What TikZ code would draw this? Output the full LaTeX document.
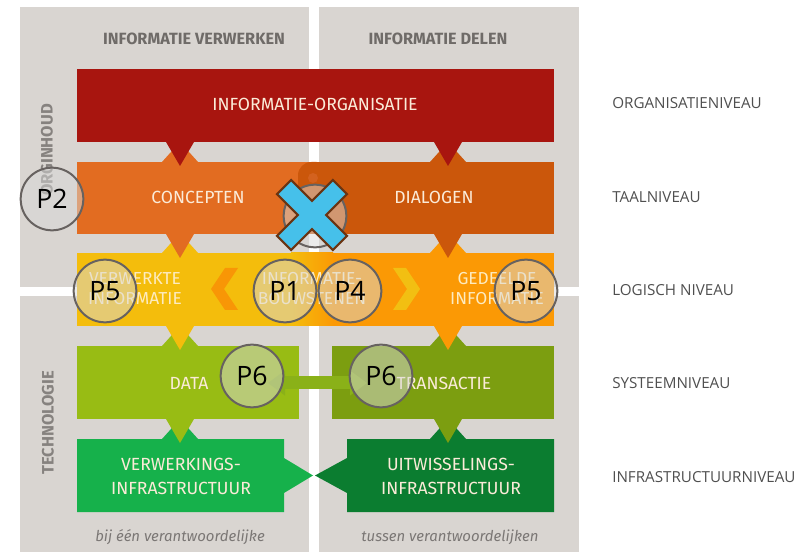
\documentclass[tikz,border=0pt]{standalone}
\usepackage{fontspec}
\setmainfont{Fira Sans}
\newfontfamily\osans{Open Sans}
\usetikzlibrary{arrows.meta}
\definecolor{bgc}{HTML}{D9D5D1}
\definecolor{hdrc}{HTML}{6F6B68}
\definecolor{sidec}{HTML}{86827F}
\definecolor{redc}{HTML}{A8150F}
\definecolor{oleft}{HTML}{E26C21}
\definecolor{oright}{HTML}{CB570B}
\definecolor{lockc}{HTML}{D3621F}
\definecolor{yelc}{HTML}{F4BD0C}
\definecolor{orgc}{HTML}{FB9905}
\definecolor{chevo}{HTML}{F89606}
\definecolor{chevy}{HTML}{F2BF12}
\definecolor{gone}{HTML}{98BC14}
\definecolor{gtwo}{HTML}{7C9E10}
\definecolor{garrow}{HTML}{8AB118}
\definecolor{gbright}{HTML}{16B14B}
\definecolor{gdark}{HTML}{0B7D30}
\definecolor{barfg}{HTML}{FBEBD8}
\definecolor{yfg}{HTML}{FDEBC0}
\definecolor{lvlc}{HTML}{4F4F4F}
\definecolor{capc}{HTML}{7B7775}
\definecolor{circd}{HTML}{676260}
\definecolor{circf}{HTML}{D8D8D8}
\definecolor{xfill}{HTML}{46C0EA}
\definecolor{xline}{HTML}{6A3412}
\begin{document}
\begin{tikzpicture}[x=0.75pt,y=-0.75pt,
  bartext/.style={text=barfg,font=\fontsize{13.2}{16}\selectfont,align=center,inner sep=0pt},
  ytext/.style={text=yfg,font=\fontsize{13}{15}\selectfont,align=center,inner sep=0pt},
  hdr/.style={text=hdrc,font=\bfseries\fontsize{12.2}{13}\selectfont,inner sep=0pt},
  side/.style={text=sidec,font=\bfseries\fontsize{12.4}{13}\selectfont,inner sep=0pt,rotate=90},
  lvl/.style={text=lvlc,font=\osans\fontsize{11.4}{12}\selectfont,inner sep=0pt,anchor=west},
  capt/.style={text=capc,font=\itshape\fontsize{11.2}{13}\selectfont,inner sep=0pt},
  pc/.style={circle,draw=circd,line width=1.5pt,fill=circf,fill opacity=0.5,text opacity=1,
    minimum size=47pt,inner sep=0pt,font=\osans\fontsize{20}{20}\selectfont},
]
\useasboundingbox (0,0) rectangle (800,552);
% quadrants
\fill[bgc] (20,7) rectangle (309,287);
\fill[bgc] (319,7) rectangle (579,287);
\fill[bgc] (20,296) rectangle (309,552);
\fill[bgc] (319,296) rectangle (579,552);

% row 5 : infrastructure
\fill[gbright] (77,439) -- (284,439) -- (284,458) -- (313,475.5) -- (284,493) -- (284,512) -- (77,512) -- cycle;
\fill[gdark] (554,439) -- (347,439) -- (347,458) -- (315,475.5) -- (347,493) -- (347,512) -- (554,512) -- cycle;
\fill[gbright] (162,439) -- (180,419) -- (198,439) -- cycle;
\fill[gdark] (430,439) -- (448,419) -- (466,439) -- cycle;

% row 4 : system
\fill[gone] (77,346) rectangle (299,419);
\fill[gtwo] (332,346) rectangle (554,419);
\fill[gone] (162,346) -- (180,326) -- (198,346) -- cycle;
\fill[gtwo] (430,346) -- (448,326) -- (466,346) -- cycle;
\fill[gone] (166,419) -- (194,419) -- (180,443) -- cycle;
\fill[gtwo] (434,419) -- (462,419) -- (448,443) -- cycle;
\coordinate (al) at (268,383);
\coordinate (ar) at (367,383);
\draw[garrow,line width=9.75pt,{Triangle[length=12.75pt,width=18pt]}-{Triangle[length=12.75pt,width=18pt]}] (al) -- (ar);

% row 3 : logical
\fill[yelc] (77,253) rectangle (292,326);
\fill[orgc] (332,253) rectangle (554,326);
\shade[left color=yelc,right color=orgc] (291,253) rectangle (333,326);
\fill[yelc] (162,253) -- (180,233) -- (198,253) -- cycle;
\fill[orgc] (430,253) -- (448,233) -- (466,253) -- cycle;
\fill[yelc] (166,326) -- (194,326) -- (180,350) -- cycle;
\fill[orgc] (434,326) -- (462,326) -- (448,350) -- cycle;
\fill[chevo] (238,268) -- (225,268) -- (211,289) -- (225,310) -- (238,310) -- (224,289) -- cycle;
\fill[chevy] (393,268) -- (406,268) -- (420,289) -- (406,310) -- (393,310) -- (407,289) -- cycle;

% row 2 : language
\fill[oleft] (77,162) rectangle (310,234);
\fill[oright,rounded corners=10] (298,162) rectangle (330,234);
\fill[oright] (315,162) rectangle (554,234);
\fill[lockc] (313,178) circle (5);
\fill[oleft] (162,162) -- (180,142) -- (198,162) -- cycle;
\fill[oright] (430,162) -- (448,142) -- (466,162) -- cycle;
\fill[oleft] (166,234) -- (194,234) -- (180,258) -- cycle;
\fill[oright] (434,234) -- (462,234) -- (448,258) -- cycle;

% row 1 : organisation
\fill[redc] (77,69) rectangle (554,142);
\fill[redc] (166,142) -- (194,142) -- (180,166) -- cycle;
\fill[redc] (434,142) -- (462,142) -- (448,166) -- cycle;

% headers and side labels
\node[hdr] (h1) at (194,39) {INFORMATIE VERWERKEN};
\node[hdr] (h2) at (438,39) {INFORMATIE DELEN};
\node[side] (s1) at (47,150) {ORGINHOUD};
\node[side] (s2) at (48,423) {TECHNOLOGIE};

% bar texts
\node[bartext] (t1) at (315,104) {INFORMATIE-ORGANISATIE};
\node[bartext] (t2) at (198,197) {CONCEPTEN};
\node[bartext] (t3) at (434,197) {DIALOGEN};
\node[ytext] (t4) at (135,289) {VERWERKTE\\INFORMATIE};
\node[ytext] (t5) at (312,289) {INFORMATIE-\\BOUWSTENEN};
\node[ytext] (t6) at (497,289) {GEDEELDE\\INFORMATIE};
\node[bartext] (t7) at (189,383) {DATA};
\node[bartext] (t8) at (444,383) {TRANSACTIE};
\node[bartext,font=\fontsize{13.2}{18}\selectfont] (t9) at (181,476) {VERWERKINGS-\\INFRASTRUCTUUR};
\node[bartext,font=\fontsize{13.2}{18}\selectfont] (t10) at (451,476) {UITWISSELINGS-\\INFRASTRUCTUUR};

% captions
\node[capt] (c1) at (180,537) {bij één verantwoordelijke};
\node[capt] (c2) at (450,537) {tussen verantwoordelijken};

% level labels
\node[lvl] (l1) at (612,103) {ORGANISATIENIVEAU};
\node[lvl] (l2) at (612,197) {TAALNIVEAU};
\node[lvl] (l3) at (612,290) {LOGISCH NIVEAU};
\node[lvl] (l4) at (612,383) {SYSTEEMNIVEAU};
\node[lvl] (l5) at (612,477) {INFRASTRUCTUURNIVEAU};

% principle circles
\node[pc] (p2) at (52,199) {P2};
\node[pc] (p5a) at (105,291) {P5};
\node[pc] (p1) at (285,291) {P1};
\node[pc] (p4) at (350,291) {P4};
\node[pc] (p5b) at (526,291) {P5};
\node[pc] (p6a) at (252,376) {P6};
\node[pc] (p6b) at (381,376) {P6};
\node[pc] (px) at (315,216) {};

% blue cross
\begin{scope}[shift={(312,215)},rotate=45]
\draw[fill=xfill,draw=xline,line width=1.6pt,line join=miter]
  (10,39.5) -- (10,10) -- (39.5,10) -- (39.5,-10) -- (10,-10) -- (10,-39.5)
  -- (-10,-39.5) -- (-10,-10) -- (-39.5,-10) -- (-39.5,10) -- (-10,10) -- (-10,39.5) -- cycle;
\end{scope}
\end{tikzpicture}
\end{document}
